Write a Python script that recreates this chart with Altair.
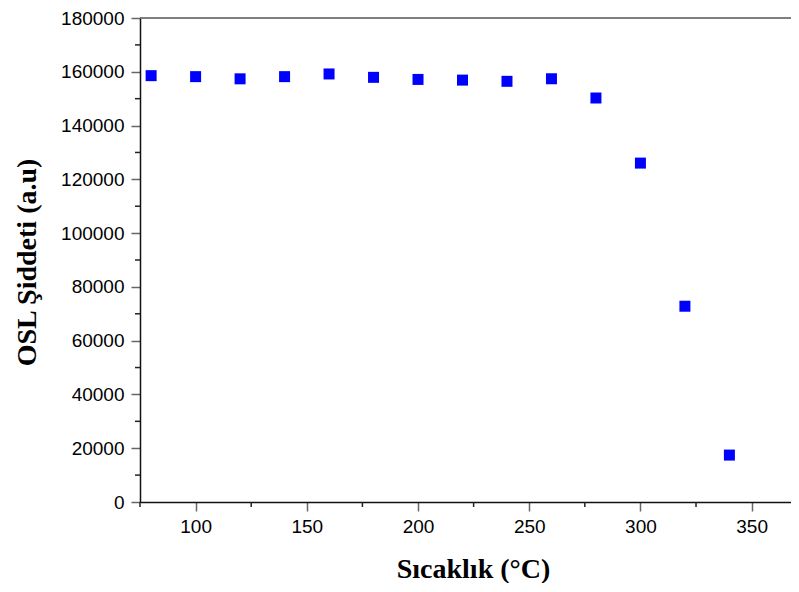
import altair as alt
import pandas as pd

# Data
temps = [80, 100, 120, 140, 160, 180, 200, 220, 240, 260, 280, 300, 320, 340]
osl = [158560, 158190, 157380, 158190, 159190, 157930, 157150, 156900,
       156450, 157400, 150250, 126040, 72810, 17450]
x_major = [100, 150, 200, 250, 300, 350]
y_major = [0, 20000, 40000, 60000, 80000, 100000, 120000, 140000, 160000, 180000]
x_minor = [75, 125, 175, 225, 275, 325]
y_minor = [10000, 30000, 50000, 70000, 90000, 110000, 130000, 150000, 170000]

W, H = 651, 484

df = pd.DataFrame({"t": temps, "osl": osl})
dfx = pd.DataFrame({"t": x_minor})
dfy = pd.DataFrame({"osl": y_minor})

xscale = alt.Scale(domain=[75, 367.7], nice=False, zero=False)
yscale = alt.Scale(domain=[0, 180000], nice=False, zero=False)

common = dict(
    labelFont="Liberation Sans", labelFontSize=19, labelColor="black",
    titleFont="Liberation Serif", titleFontSize=28, titleFontWeight="bold",
    titleColor="black", tickSize=9, tickColor="#666666", tickWidth=1.5,
    domainColor="#111111", domainWidth=1.5, grid=False, format="d",
    labelFlush=False, labelOverlap=False, titleBaseline="alphabetic",
)

xaxis = alt.Axis(values=x_major, title="Sıcaklık (°C)", labelPadding=6,
                 titleY=75, titleX=333, **common)
yaxis = alt.Axis(values=y_major, title="OSL Şiddeti (a.u)", labelPadding=7,
                 titleX=-105, titleY=H / 2 + 2, **common)

points = alt.Chart(df).mark_point(
    shape="square", filled=True, size=121, color="#0000FF", opacity=1
).encode(
    x=alt.X("t:Q", scale=xscale, axis=xaxis),
    y=alt.Y("osl:Q", scale=yscale, axis=yaxis),
)

xminor = alt.Chart(dfx).mark_rule(color="#222222", strokeWidth=1.5).encode(
    x=alt.X("t:Q", scale=xscale, axis=xaxis),
    y=alt.value(H),
    y2=alt.value(H + 5),
)

yminor = alt.Chart(dfy).mark_rule(color="#222222", strokeWidth=1.5).encode(
    y=alt.Y("osl:Q", scale=yscale, axis=yaxis),
    x=alt.value(0),
    x2=alt.value(-5),
)

topline = alt.Chart(pd.DataFrame({"a": [0]})).mark_rule(
    color="#555555", strokeWidth=1.5
).encode(x=alt.value(0), x2=alt.value(W), y=alt.value(0))

chart = alt.layer(topline, xminor, yminor, points).properties(
    width=W, height=H,
    autosize=alt.AutoSizeParams(type="none"),
    padding={"left": 132, "top": 10, "right": 0, "bottom": 81},
).configure_view(stroke=None)

chart.save("out.html", embed_options={"renderer": "svg", "actions": False})
